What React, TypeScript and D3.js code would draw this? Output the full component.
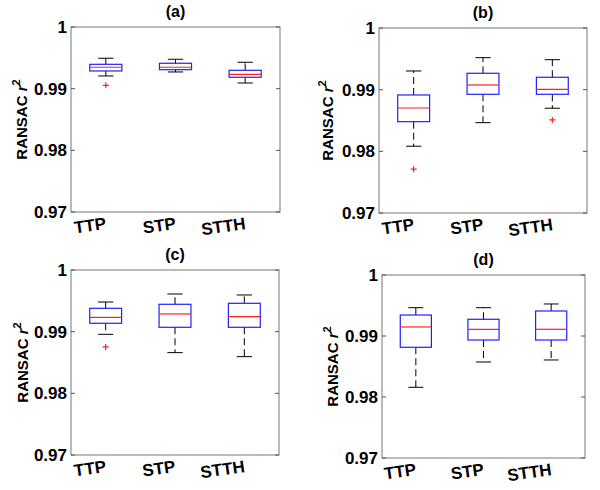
import React, { useEffect, useRef } from 'react';
import * as d3 from 'd3';

const categories = ['TTP', 'STP', 'STTH'];
const yTicks = [0.97, 0.98, 0.99, 1];
const panelTitles = ['(a)', '(b)', '(c)', '(d)'];

// each box: [lower whisker, q1, median, q3, upper whisker]
const statsA = [
  [0.99206, 0.99287, 0.99347, 0.99395, 0.99493],
  [0.99271, 0.99308, 0.99347, 0.99412, 0.99477],
  [0.99092, 0.99185, 0.99233, 0.99298, 0.99428],
];
const outliersA = [[0.99055], [], []];

const statsB = [
  [0.98083, 0.98481, 0.98703, 0.98914, 0.99303],
  [0.98465, 0.98925, 0.99076, 0.99266, 0.99519],
  [0.98699, 0.98925, 0.99006, 0.99201, 0.99486],
];
const outliersB = [[0.9771], [], [0.98509]];

const statsC = [
  [0.98957, 0.99136, 0.99233, 0.99379, 0.99481],
  [0.9866, 0.99071, 0.99287, 0.99444, 0.99611],
  [0.98595, 0.99071, 0.99244, 0.9946, 0.99595],
];
const outliersC = [[0.98752], [], []];

const statsD = [
  [0.98159, 0.98815, 0.99148, 0.99344, 0.99464],
  [0.98574, 0.98934, 0.9911, 0.99274, 0.99464],
  [0.98607, 0.98934, 0.9911, 0.9941, 0.99525],
];
const outliersD = [[], [], []];

const allStats = [statsA, statsB, statsC, statsD];
const allOutliers = [outliersA, outliersB, outliersC, outliersD];

// axes frames in page pixels
const frames = [
  { x0: 71, x1: 280, y0: 27, y1: 212, labelX: 27 },
  { x0: 379, x1: 587, y0: 28, y1: 213, labelX: 333 },
  { x0: 71, x1: 279, y0: 270, y1: 455, labelX: 28 },
  { x0: 382, x1: 585, y0: 275, y1: 458, labelX: 338 },
];

const FONT = "'Liberation Sans', Arial, sans-serif";

export default function App() {
  const ref = useRef<SVGSVGElement>(null);

  useEffect(() => {
    const svg = d3.select(ref.current);
    svg.selectAll('*').remove();
    svg.append('rect').attr('width', 600).attr('height', 490).attr('fill', '#fff');

    frames.forEach((f, pi) => {
      const g = svg.append('g');
      const x = d3.scaleLinear().domain([0.5, 3.5]).range([f.x0, f.x1]);
      const y = d3.scaleLinear().domain([0.97, 1]).range([f.y1, f.y0]);
      const bw = x(1.23) - x(1);
      const cw = x(1.11) - x(1);

      // frame
      g.append('rect')
        .attr('x', f.x0).attr('y', f.y0)
        .attr('width', f.x1 - f.x0).attr('height', f.y1 - f.y0)
        .attr('fill', 'none').attr('stroke', '#777').attr('stroke-width', 1);

      // y ticks on both sides
      yTicks.forEach(t => {
        g.append('line').attr('x1', f.x0).attr('x2', f.x0 + 4).attr('y1', y(t)).attr('y2', y(t)).attr('stroke', '#555');
        g.append('line').attr('x1', f.x1 - 4).attr('x2', f.x1).attr('y1', y(t)).attr('y2', y(t)).attr('stroke', '#555');
        g.append('text')
          .attr('x', f.x0 - 4).attr('y', y(t) + 6)
          .attr('text-anchor', 'end')
          .style('font-family', FONT).style('font-weight', 'bold').style('font-size', '17px')
          .text(String(t));
      });

      // title
      g.append('text')
        .attr('x', (f.x0 + f.x1) / 2).attr('y', f.y0 - 10)
        .attr('text-anchor', 'middle')
        .style('font-family', FONT).style('font-weight', 'bold').style('font-size', '16px')
        .text(panelTitles[pi]);

      // y label
      const yl = g.append('text')
        .attr('transform', `translate(${f.labelX}, ${(f.y0 + f.y1) / 2 - 0}) rotate(-90)`)
        .attr('text-anchor', 'middle')
        .style('font-family', FONT).style('font-weight', 'bold').style('font-size', '15px');
      yl.append('tspan').text('RANSAC ');
      yl.append('tspan').style('font-style', 'italic').text('r');
      yl.append('tspan').attr('dy', -7).style('font-size', '11px').text('2');

      // x labels, slightly rotated, anchored at their right end
      categories.forEach((c, i) => {
        g.append('text')
          .attr('transform', `translate(${x(i + 1) + 1}, ${f.y1 + 17}) rotate(-8)`)
          .attr('text-anchor', 'end')
          .style('font-family', FONT).style('font-weight', 'bold').style('font-size', '17px')
          .text(c);
      });

      // boxes
      allStats[pi].forEach((s, i) => {
        const [lo, q1, med, q3, hi] = s;
        const cx = x(i + 1);
        const bg = g.append('g');
        bg.append('line').attr('x1', cx).attr('x2', cx).attr('y1', y(q3)).attr('y2', y(hi))
          .attr('stroke', '#000').attr('stroke-dasharray', '7,4');
        bg.append('line').attr('x1', cx).attr('x2', cx).attr('y1', y(q1)).attr('y2', y(lo))
          .attr('stroke', '#000').attr('stroke-dasharray', '7,4');
        bg.append('line').attr('x1', cx - cw).attr('x2', cx + cw).attr('y1', y(hi)).attr('y2', y(hi)).attr('stroke', '#000');
        bg.append('line').attr('x1', cx - cw).attr('x2', cx + cw).attr('y1', y(lo)).attr('y2', y(lo)).attr('stroke', '#000');
        bg.append('rect')
          .attr('x', cx - bw).attr('y', y(q3))
          .attr('width', 2 * bw).attr('height', y(q1) - y(q3))
          .attr('fill', 'none').attr('stroke', '#2020ff').attr('stroke-width', 1.2);
        bg.append('line').attr('x1', cx - bw).attr('x2', cx + bw).attr('y1', y(med)).attr('y2', y(med))
          .attr('stroke', '#ff2020').attr('stroke-width', 1.2);
        allOutliers[pi][i].forEach(o => {
          bg.append('path')
            .attr('d', `M${cx - 3},${y(o)}H${cx + 3}M${cx},${y(o) - 3}V${y(o) + 3}`)
            .attr('stroke', '#ff2020').attr('stroke-width', 1.2);
        });
      });
    });
  }, []);

  return (
    <svg ref={ref} width={600} height={490} style={{ position: 'absolute', left: 0, top: 0 }} />
  );
}
